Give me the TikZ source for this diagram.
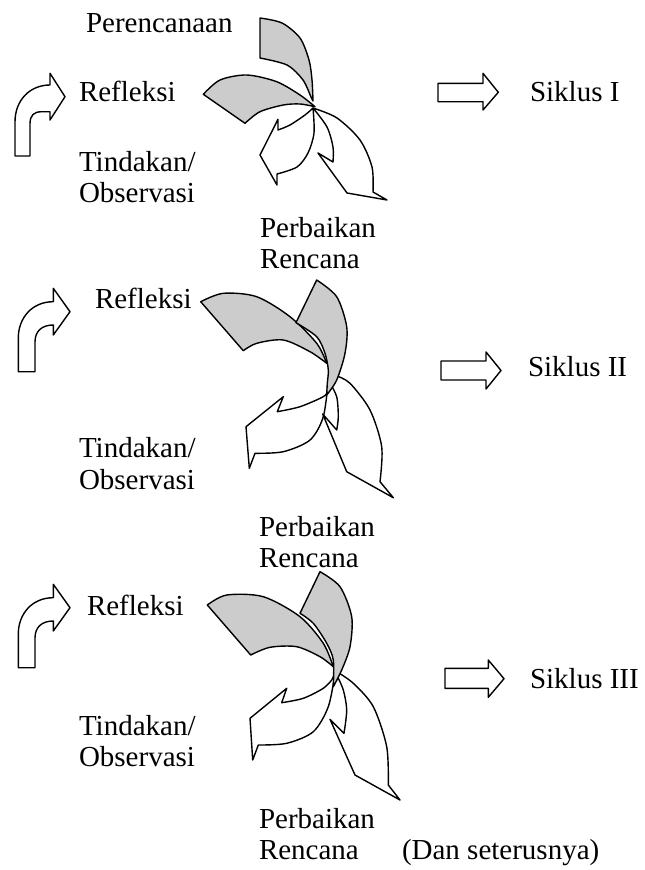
\documentclass[tikz,border=0pt]{standalone}
\usepackage{fontspec}
\setmainfont{Liberation Serif}
\definecolor{shade}{RGB}{204,204,204}
\begin{document}
\begin{tikzpicture}[x=1pt,y=-1pt,
  lbl/.style={anchor=base west,inner sep=0pt,outer sep=0pt,font=\fontsize{29}{31}\selectfont},
  shp/.style={draw=black,line width=1.4pt,line join=round,fill=white},
  gshp/.style={shp,fill=shade}]
\useasboundingbox (0,0) rectangle (645,870);

% ---------------- Cycle 1 ----------------
% bent arrow
\draw[shp] (15,156) -- (30,156) -- (30,124) .. controls (30,115) and (34,111.7) .. (42,111.7) -- (50,111.7) -- (50,120) -- (65,96.7) -- (50,73.3) -- (50,85) .. controls (30,85) and (15,100) .. (15,122) -- cycle;
% white arrows
\draw[shp] plot[smooth] coordinates {(313,108) (314,133) (308,153) (297,167) (277,174)} -- (277,185) -- (260,155) -- (278,119.3) -- (278,130) -- plot[smooth] coordinates {(278,130) (290,125) (305,115) (313,108)} -- cycle;
\draw[shp] plot[smooth] coordinates {(313,108) (327,127) (333,147) (333,162)} -- (318,153) -- (347,193) -- (387,200) -- (373,192) -- plot[smooth] coordinates {(373,192) (372,167) (360,140) (337,118) (313,108)} -- cycle;
% gray arrows
\draw[gshp] plot[smooth] coordinates {(260,18) (282,23) (300,38) (309,60) (312,80) (313,101)} -- plot[smooth] coordinates {(313,101) (311,97) (303,80) (287,65) (260,58)} -- cycle;
\draw[gshp] plot[smooth] coordinates {(203.3,94.3) (220,80) (246.7,75) (276.7,81.7) (300,95) (315,106.7)} -- plot[smooth] coordinates {(315,106.7) (300,104) (283.3,105) (260,111.7) (245,123.3)} -- cycle;
% block arrow
\draw[shp] (438,83.3) -- (483,83.3) -- (483,73.3) -- (498.3,92.3) -- (483,110) -- (483,101.7) -- (438,101.7) -- cycle;
% labels
\node[lbl] (per1) at (86,32) {Perencanaan};
\node[lbl] (ref1) at (79,101) {Refleksi};
\node[lbl] (tin1a) at (79,171) {Tindakan/};
\node[lbl] (tin1b) at (79,202) {Observasi};
\node[lbl] (prb1a) at (260,237) {Perbaikan};
\node[lbl] (prb1b) at (260,268) {Rencana};
\node[lbl] (sik1) at (530,101) {Siklus I};

% ---------------- Cycle 2 ----------------
\draw[shp] (18.3,371.7) -- (35,371.7) -- (35,342) .. controls (35,331) and (42,325) .. (53.3,325) -- (53.3,335) -- (70,311.7) -- (53.3,288.3) -- (53.3,301.7) .. controls (32,301.7) and (18.3,318) .. (18.3,338) -- cycle;
\draw[shp] plot[smooth] coordinates {(328.3,380) (323.3,416.7) (310,440) (283.3,451.7) (255,453.3)} -- (249.3,468.3) -- (246,426.7) -- (283.3,396.7) -- (277.3,411.7) -- plot[smooth] coordinates {(277.3,411.7) (300,406.7) (323.3,396.7) (327.3,391.7)} -- cycle;
\draw[shp] plot[smooth] coordinates {(330,383.3) (336.7,396.7) (338.3,416.7) (336.7,430)} -- (322.7,414) -- (346.7,471.7) -- (393.3,497.7) -- (380,481.7) -- plot[smooth] coordinates {(380,481.7) (381.7,446.7) (370,410) (350,383.3) (336.7,376)} -- cycle;
\draw[gshp] plot[smooth] coordinates {(200.7,301.7) (223.3,293.3) (256.7,296.7) (290,316.7) (316.7,343.3) (326.7,363.3)} -- plot[smooth] coordinates {(326.7,363.3) (310,351.7) (283.3,340) (256.7,343.3) (243.3,350.7)} -- cycle;
\draw[gshp] plot[smooth] coordinates {(316.7,280) (336.7,296.7) (346.7,326.7) (345,353.3) (336.7,380) (326.7,395)} -- plot[smooth] coordinates {(326.7,395) (327.3,383.3) (328.3,370) (325,353.3) (316.7,336.7) (296,322.7)} -- cycle;
\draw[shp] (441,361) -- (486,361) -- (486,352) -- (501,370.5) -- (486,389) -- (486,380) -- (441,380) -- cycle;
\node[lbl] (ref2) at (95,308) {Refleksi};
\node[lbl] (tin2a) at (79,457) {Tindakan/};
\node[lbl] (tin2b) at (79,489) {Observasi};
\node[lbl] (prb2a) at (259,536) {Perbaikan};
\node[lbl] (prb2b) at (259,567) {Rencana};
\node[lbl] (sik2) at (528,376) {Siklus II};

% ---------------- Cycle 3 ----------------
\begin{scope}[yshift=-296pt]
\draw[shp] (18.3,371.7) -- (35,371.7) -- (35,342) .. controls (35,331) and (42,325) .. (53.3,325) -- (53.3,335) -- (70,311.7) -- (53.3,288.3) -- (53.3,301.7) .. controls (32,301.7) and (18.3,318) .. (18.3,338) -- cycle;
\end{scope}
\draw[shp] plot[smooth] coordinates {(335,673.3) (328.3,706.7) (313.3,731.7) (286.7,743.3) (258.3,745)} -- (252.7,760) -- (250,718.3) -- (286.7,688.3) -- (281.7,702.7) -- plot[smooth] coordinates {(281.7,702.7) (303.3,698.3) (323.3,688.3) (331.7,680)} -- cycle;
\draw[shp] plot[smooth] coordinates {(336.7,675) (343.3,690) (346.7,710) (344,733.3)} -- (330,719.3) -- (355,775) -- (400,800) -- (388.3,785) -- plot[smooth] coordinates {(388.3,785) (386.7,746.7) (373.3,706.7) (353.3,683.3) (336.7,671.7)} -- cycle;
\draw[gshp] plot[smooth] coordinates {(207.3,605) (226.7,595) (263.3,596.7) (300,616.7) (323.3,643.3) (333.3,666.7)} -- plot[smooth] coordinates {(333.3,666.7) (320,656.7) (296.7,646.7) (270,647.3) (250.7,655)} -- cycle;
\draw[gshp] plot[smooth] coordinates {(320,571.7) (340,586.7) (351.7,616.7) (350,646.7) (341.7,670) (333.3,686.7)} -- plot[smooth] coordinates {(333.3,686.7) (333.3,660) (326.7,643.3) (313.3,623.3) (300,613.3)} -- cycle;
\draw[shp] (445,668.3) -- (488.3,668.3) -- (488.3,660) -- (504,678.7) -- (488.3,697.3) -- (488.3,688.3) -- (445,688.3) -- cycle;
\node[lbl] (ref3) at (87,615) {Refleksi};
\node[lbl] (tin3a) at (79,735) {Tindakan/};
\node[lbl] (tin3b) at (79,766) {Observasi};
\node[lbl] (prb3a) at (259,828) {Perbaikan};
\node[lbl] (prb3b) at (259,859) {Rencana};
\node[lbl] (dan3) at (402,859) {(Dan seterusnya)};
\node[lbl] (sik3) at (530,688) {Siklus III};
\end{tikzpicture}
\end{document}
